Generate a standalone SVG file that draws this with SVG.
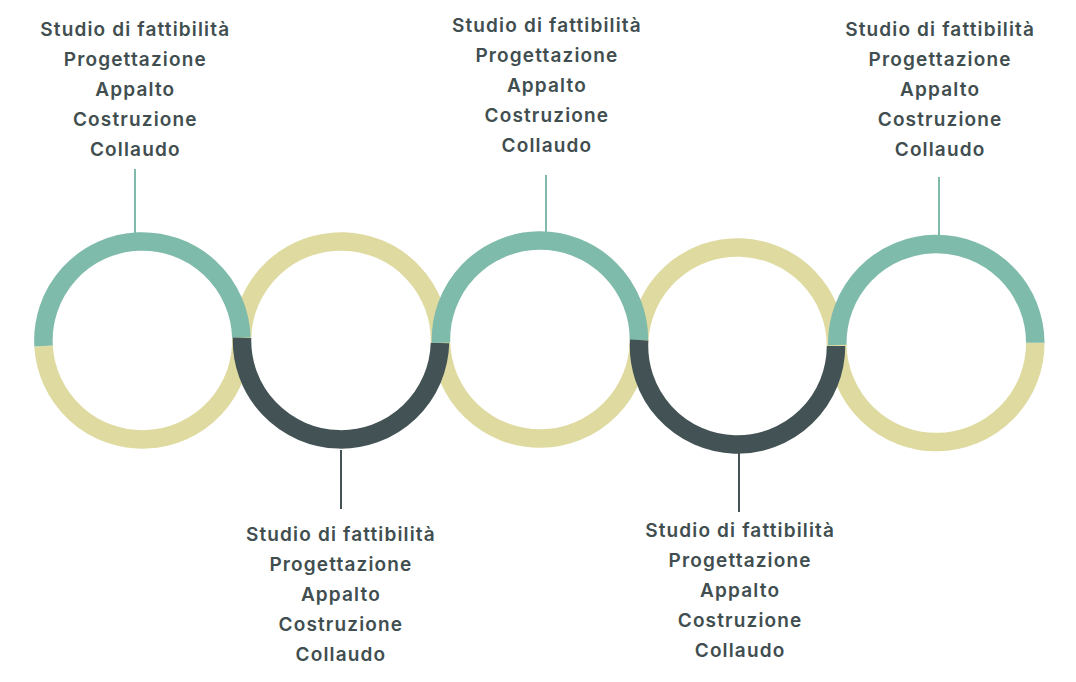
<svg xmlns="http://www.w3.org/2000/svg" width="1076" height="682" viewBox="0 0 1076 682">
<style>
.y{fill:none;stroke:#dedaa0;stroke-width:18.5}
.t{fill:none;stroke:#7fbbab;stroke-width:18.5}
.d{fill:none;stroke:#435355;stroke-width:18.5}
.lt{stroke:#7fbbab;stroke-width:2}
.ld{stroke:#435355;stroke-width:2}
text{font-family:Inter,"Liberation Sans",sans-serif;font-weight:600;font-size:19px;letter-spacing:1.15px;fill:#414e50;text-anchor:middle}
</style>
<rect width="1076" height="682" fill="#fff"/>
<g id="rings-under">
<path class="y" d="M43.55,346 A99,99 0 0 0 241.35,337.5"/>
<path class="y" d="M242.04,337.7 A99,99 0 0 1 439.97,343"/>
<path class="y" d="M441,342.7 A99,99 0 0 0 638.95,340"/>
<path class="y" d="M639.18,340 A98.5,98.5 0 0 1 836,346"/>
<path class="y" d="M837.32,345 A99,99 0 0 0 1035.3,342.7"/>
</g>
<g id="ring1"><path class="t" d="M43.55,346 A99,99 0 1 1 241.35,337.5"/></g>
<g id="ring2"><path class="d" d="M242.04,337.7 A99,99 0 1 0 439.97,343"/></g>
<g id="ring3"><path class="t" d="M441,342.7 A99,99 0 1 1 638.95,340"/></g>
<g id="ring4"><path class="d" d="M639.18,340 A98.5,98.5 0 1 0 836,346"/></g>
<g id="ring5"><path class="t" d="M837.32,345 A99,99 0 1 1 1035.3,342.7"/></g>
<g id="connectors">
<line class="lt" x1="135" y1="169" x2="135" y2="235"/>
<line class="ld" x1="341" y1="450" x2="341" y2="509"/>
<line class="lt" x1="546" y1="175" x2="546" y2="235"/>
<line class="ld" x1="739" y1="452" x2="739" y2="512"/>
<line class="lt" x1="939" y1="177" x2="939" y2="235"/>
</g>
<g id="label1">
<text x="135.3" y="36">Studio di fattibilità</text>
<text x="135.3" y="66">Progettazione</text>
<text x="135.3" y="96">Appalto</text>
<text x="135.3" y="126">Costruzione</text>
<text x="135.3" y="156">Collaudo</text>
</g>
<g id="label2">
<text x="340.9" y="540.5">Studio di fattibilità</text>
<text x="340.9" y="570.5">Progettazione</text>
<text x="340.9" y="600.5">Appalto</text>
<text x="340.9" y="630.5">Costruzione</text>
<text x="340.9" y="660.5">Collaudo</text>
</g>
<g id="label3">
<text x="546.9" y="31.7">Studio di fattibilità</text>
<text x="546.9" y="61.7">Progettazione</text>
<text x="546.9" y="91.7">Appalto</text>
<text x="546.9" y="121.7">Costruzione</text>
<text x="546.9" y="151.7">Collaudo</text>
</g>
<g id="label4">
<text x="740.1" y="536.7">Studio di fattibilità</text>
<text x="740.1" y="566.7">Progettazione</text>
<text x="740.1" y="596.7">Appalto</text>
<text x="740.1" y="626.7">Costruzione</text>
<text x="740.1" y="656.7">Collaudo</text>
</g>
<g id="label5">
<text x="940.1" y="36">Studio di fattibilità</text>
<text x="940.1" y="66">Progettazione</text>
<text x="940.1" y="96">Appalto</text>
<text x="940.1" y="126">Costruzione</text>
<text x="940.1" y="156">Collaudo</text>
</g>
</svg>
